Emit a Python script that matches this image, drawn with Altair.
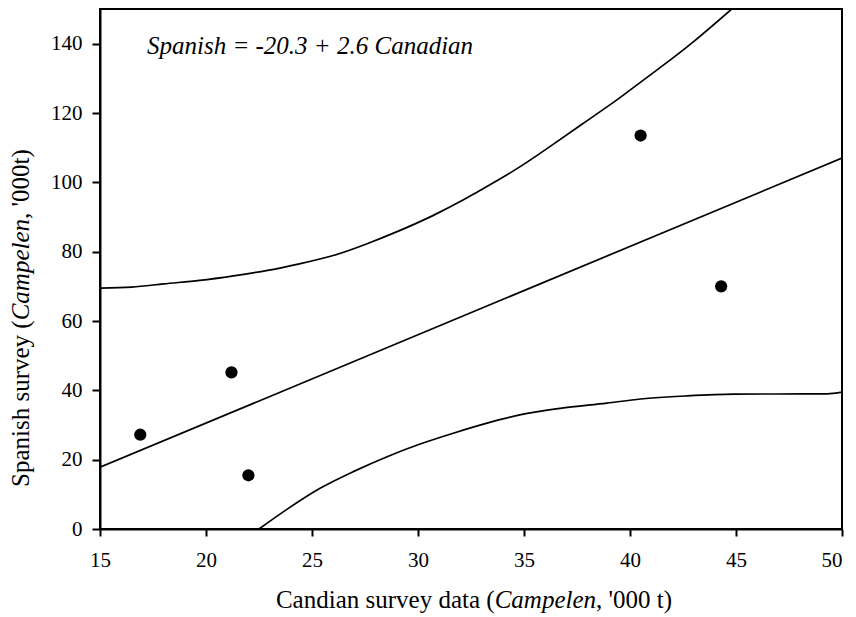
import altair as alt
import pandas as pd

# ---- data ----
obs_x = [16.9, 21.2, 22.0, 40.5, 44.3]
obs_y = [27.2, 45.2, 15.5, 113.5, 70.0]

fit_x = [15, 50]
fit_y = [17.8, 107.0]

upper_x = [15, 16.5, 18.0, 19.7, 21.3, 22.9, 24.4, 26.0, 27.6, 29.1, 30.7, 32.1,
           32.9, 34.5, 36.1, 37.7, 39.2, 40.0, 41.4, 43.0, 44.8]
upper_y = [69.5, 69.8, 70.7, 71.7, 73.0, 74.6, 76.5, 78.9, 82.3, 86.0, 90.4, 94.8,
           97.6, 103.3, 109.8, 116.6, 123.0, 126.6, 133.0, 140.6, 150.0]

lower_x = [22.5, 23.85, 25.4, 27.0, 28.6, 30.1, 31.7, 33.3, 34.8, 36.7, 38.9,
           40.5, 42.7, 44.9, 49.3, 50.0]
lower_y = [0.0, 5.8, 11.8, 16.7, 21.0, 24.5, 27.7, 30.6, 32.9, 34.8, 36.3,
           37.5, 38.4, 38.9, 39.0, 39.5]

x_ticks = [15, 20, 25, 30, 35, 40, 45, 50]
y_ticks = [0, 20, 40, 60, 80, 100, 120, 140]

equation = "Spanish = -20.3 + 2.6 Canadian"
x_title = ["Candian survey data (", "Campelen", ", '000 t)"]
y_title = ["Spanish survey (", "Campelen", ", '000t)"]

# ---- layout ----
W, H = 742, 520
FONT = "Liberation Serif"
TFS = 25  # title font size
LFS = 21  # tick label font size

# approximate Times metrics (em) for chaining mixed-style title pieces
xw = [8.748 * TFS, 4.055 * TFS, 3.041 * TFS]
yw = [6.666 * TFS, 4.055 * TFS, 2.791 * TFS]

xs = alt.Scale(domain=[15, 50], nice=False, zero=False)
ys = alt.Scale(domain=[0, 150], nice=False, zero=False)

x_axis = alt.Axis(values=x_ticks, title=None, tickSize=7, labelPadding=13,
                  labelFlush=False, labelOverlap=False, format="d",
                  labelFont=FONT, labelFontSize=LFS, labelColor="black",
                  labelAlign={"condition": {"test": "datum.value == 50", "value": "right"},
                              "value": "center"})
y_axis = alt.Axis(values=y_ticks, title=None, tickSize=8, labelPadding=10,
                  labelOverlap=False, format="d",
                  labelFont=FONT, labelFontSize=LFS, labelColor="black")

pts = pd.DataFrame({"x": obs_x, "y": obs_y})
fit = pd.DataFrame({"x": fit_x, "y": fit_y})
up = pd.DataFrame({"x": upper_x, "y": upper_y})
lo = pd.DataFrame({"x": lower_x, "y": lower_y})

base_x = alt.X("x:Q", scale=xs, axis=x_axis)
base_y = alt.Y("y:Q", scale=ys, axis=y_axis)

LW = 1.7
line_fit = alt.Chart(fit).mark_line(color="black", strokeWidth=LW, clip=True).encode(
    x=base_x, y=base_y)
line_up = alt.Chart(up).mark_line(color="black", strokeWidth=LW, clip=True,
                                  interpolate="natural").encode(x="x:Q", y="y:Q")
line_lo = alt.Chart(lo).mark_line(color="black", strokeWidth=LW, clip=True,
                                  interpolate="monotone").encode(x="x:Q", y="y:Q")
dots = alt.Chart(pts).mark_point(shape="circle", filled=True, color="black",
                                 opacity=1, size=150).encode(x="x:Q", y="y:Q")

eq = alt.Chart(pd.DataFrame({"t": [equation]})).mark_text(
    font=FONT, fontSize=25, fontStyle="italic", align="left",
    baseline="alphabetic", color="black").encode(
    x=alt.value(47), y=alt.value(45), text="t:N")

# x title pieces
x_center = 374
x0 = x_center - sum(xw) / 2
x_pos = [x0, x0 + xw[0], x0 + xw[0] + xw[1]]
styles = ["normal", "italic", "normal"]
xt_layers = []
for txt, px, st in zip(x_title, x_pos, styles):
    xt_layers.append(
        alt.Chart(pd.DataFrame({"t": [txt]})).mark_text(
            font=FONT, fontSize=TFS, fontStyle=st, align="left",
            baseline="alphabetic", color="black").encode(
            x=alt.value(px), y=alt.value(599), text="t:N"))

# y title pieces (rotated, reading bottom to top)
y0 = 478
y_pos = [y0, y0 - yw[0], y0 - yw[0] - yw[1]]
yt_layers = []
for txt, py, st in zip(y_title, y_pos, styles):
    yt_layers.append(
        alt.Chart(pd.DataFrame({"t": [txt]})).mark_text(
            font=FONT, fontSize=TFS, fontStyle=st, align="left", angle=270,
            baseline="alphabetic", color="black").encode(
            x=alt.value(-71), y=alt.value(py), text="t:N"))

chart = alt.layer(line_fit, line_up, line_lo, dots, eq, *xt_layers, *yt_layers).properties(
    width=W, height=H,
    autosize=alt.AutoSizeParams(type="none"),
    padding={"left": 92, "top": 1, "right": 6, "bottom": 87},
    background="white",
).configure_view(
    stroke="black", strokeWidth=2
).configure_axis(
    domainColor="black", domainWidth=2, tickColor="black", tickWidth=2,
    labelFont=FONT, labelFontSize=LFS, labelColor="black", grid=False
)

chart.save("out.html", embed_options={"renderer": "svg", "actions": False})
